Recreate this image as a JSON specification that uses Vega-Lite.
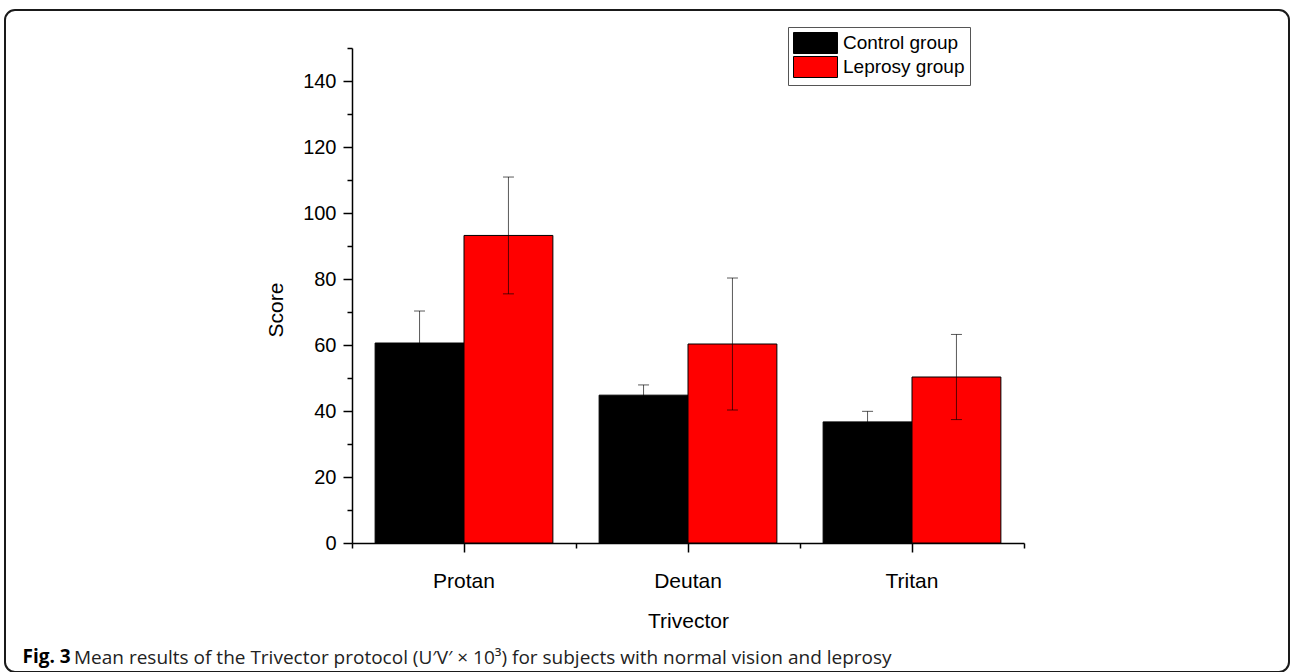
{
  "$schema": "https://vega.github.io/schema/vega-lite/v6.json",
  "autosize": {"type": "none"},
  "width": 1284,
  "height": 662,
  "padding": {"left": 5, "top": 10, "right": 1, "bottom": 0},
  "background": "white",
  "config": {
    "view": {"stroke": "#1a1a1a", "strokeWidth": 2, "cornerRadius": 10, "fill": "white"},
    "font": "Liberation Sans"
  },
  "title": {
    "text": "Mean results of the Trivector protocol (U′V′ × 10³) for subjects with normal vision and leprosy",
    "orient": "bottom",
    "anchor": "start",
    "frame": "group",
    "offset": -8,
    "dx": 69,
    "baseline": "alphabetic",
    "font": "Open Sans",
    "fontSize": 19,
    "fontWeight": "normal",
    "color": "#222222"
  },
  "data": {
    "values": [
      {"vector": "Protan", "group": "Control group", "mean": 60.6, "lo": 50.9, "hi": 70.3},
      {"vector": "Protan", "group": "Leprosy group", "mean": 93.2, "lo": 75.5, "hi": 110.9},
      {"vector": "Deutan", "group": "Control group", "mean": 44.8, "lo": 41.7, "hi": 47.9},
      {"vector": "Deutan", "group": "Leprosy group", "mean": 60.3, "lo": 40.3, "hi": 80.3},
      {"vector": "Tritan", "group": "Control group", "mean": 36.7, "lo": 33.5, "hi": 39.9},
      {"vector": "Tritan", "group": "Leprosy group", "mean": 50.3, "lo": 37.4, "hi": 63.2}
    ]
  },
  "resolve": {"axis": {"x": "independent"}},
  "layer": [
    {
      "mark": {"type": "bar", "stroke": "black", "strokeWidth": 1},
      "encoding": {
        "x": {
          "field": "vector", "type": "nominal",
          "sort": ["Protan", "Deutan", "Tritan"],
          "scale": {"domain": ["Protan", "Deutan", "Tritan"], "range": [347, 1019], "paddingInner": 0, "paddingOuter": 0},
          "axis": {
            "orient": "bottom", "offset": -129,
            "title": "Trivector", "titleFontSize": 21, "titleFontWeight": "normal", "titleColor": "black",
            "titleBaseline": "alphabetic", "titleY": 84,
            "labelFontSize": 21, "labelColor": "black", "labelPadding": 18, "labelAngle": 0,
            "tickSize": 9, "tickWidth": 1.5, "tickColor": "black",
            "domainColor": "black", "domainWidth": 1.5, "grid": false
          }
        },
        "xOffset": {
          "field": "group", "type": "nominal",
          "scale": {"domain": ["Control group", "Leprosy group"], "paddingInner": 0, "paddingOuter": 0.26}
        },
        "y": {
          "field": "mean", "type": "quantitative",
          "scale": {"domain": [0, 150], "range": [533, 38], "nice": false},
          "axis": {
            "title": "Score",
            "values": [0, 10, 20, 30, 40, 50, 60, 70, 80, 90, 100, 110, 120, 130, 140, 150],
            "labelExpr": "datum.value % 20 === 0 ? datum.label : ''",
            "tickSize": {"condition": {"test": "datum.value % 20 === 0", "value": 9}, "value": 5},
            "offset": -347,
            "domainColor": "black", "domainWidth": 1.5,
            "tickColor": "black", "tickWidth": 1.5,
            "labelFontSize": 20, "labelColor": "black", "labelPadding": 7,
            "titleFontSize": 21, "titleFontWeight": "normal", "titleColor": "black",
            "titleX": -66, "titleY": 299.5, "titleAngle": -90, "titleBaseline": "bottom", "titleAlign": "center",
            "grid": false
          }
        },
        "color": {
          "field": "group", "type": "nominal",
          "scale": {"domain": ["Control group", "Leprosy group"], "range": ["#000000", "#ff0000"]},
          "legend": {
            "orient": "none", "legendX": 783, "legendY": 17, "title": null,
            "labelFontSize": 19, "labelColor": "black", "labelFont": "Liberation Sans",
            "symbolType": "M-1,-1H3.19V1H-1Z", "symbolSize": 441,
            "symbolStrokeColor": "black", "symbolStrokeWidth": 1, "symbolOpacity": 1,
            "strokeColor": "#555555", "padding": 5, "fillColor": "white",
            "labelOffset": 28, "rowPadding": -3
          }
        }
      }
    },
    {
      "mark": {"type": "rule", "color": "black", "opacity": 0.65, "strokeWidth": 1},
      "encoding": {
        "x": {
          "field": "vector", "type": "nominal",
          "sort": ["Protan", "Deutan", "Tritan"],
          "axis": {
            "orient": "bottom", "offset": -129, "tickBand": "extent",
            "tickSize": 5, "tickWidth": 1.5, "tickColor": "black",
            "labels": false, "domain": false, "grid": false,
            "title": "Fig. 3", "titleFont": "Open Sans", "titleFontWeight": "bold", "titleFontSize": 19,
            "titleColor": "black", "titleX": 17, "titleY": 119, "titleAlign": "left", "titleBaseline": "alphabetic"
          }
        },
        "xOffset": {"field": "group", "type": "nominal"},
        "y": {"field": "lo", "type": "quantitative"},
        "y2": {"field": "hi"}
      }
    },
    {
      "mark": {"type": "tick", "color": "black", "opacity": 0.65, "thickness": 1, "size": 11, "orient": "horizontal"},
      "encoding": {
        "x": {"field": "vector", "type": "nominal", "sort": ["Protan", "Deutan", "Tritan"], "axis": null},
        "xOffset": {"field": "group", "type": "nominal"},
        "y": {"field": "hi", "type": "quantitative"}
      }
    },
    {
      "mark": {"type": "tick", "color": "black", "opacity": 0.65, "thickness": 1, "size": 11, "orient": "horizontal"},
      "encoding": {
        "x": {"field": "vector", "type": "nominal", "sort": ["Protan", "Deutan", "Tritan"], "axis": null},
        "xOffset": {"field": "group", "type": "nominal"},
        "y": {"field": "lo", "type": "quantitative"}
      }
    }
  ]
}
